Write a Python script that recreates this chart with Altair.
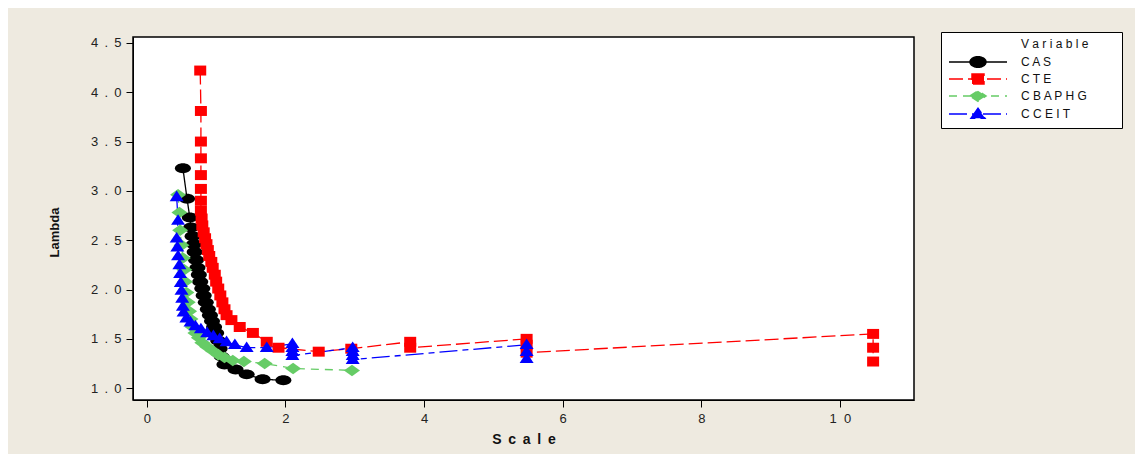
import altair as alt
import pandas as pd

series = ["C A S", "C T E", "C B A P H G", "C C E I T"]
colors = ["#000000", "#ff0000", "#66cc66", "#0000ff"]
dashes = [[1, 0], [14, 5], [8, 6], [18, 5, 6, 5]]

cas_x = [0.52, 0.58, 0.62, 0.64, 0.66, 0.68, 0.69, 0.71, 0.73, 0.75, 0.77, 0.80, 0.82, 0.85,
         0.88, 0.91, 0.94, 0.97, 1.00, 1.03, 1.05, 1.08, 1.12, 1.28, 1.44, 1.67, 1.97]
cas_y = [3.23, 2.92, 2.73, 2.63, 2.54, 2.46, 2.38, 2.30, 2.22, 2.15, 2.08, 2.01, 1.94, 1.87,
         1.80, 1.74, 1.68, 1.62, 1.56, 1.48, 1.40, 1.32, 1.24, 1.19, 1.14, 1.09, 1.08]

cte_x = [0.77, 0.78, 0.78, 0.78, 0.78, 0.78, 0.78, 0.78, 0.79, 0.80, 0.82, 0.84, 0.86, 0.88,
         0.90, 0.93, 0.95, 0.98, 1.00, 1.03, 1.06, 1.09, 1.12, 1.15, 1.22, 1.34, 1.53, 1.73,
         1.90, 2.48, 2.95, 3.80, 3.80, 5.48, 5.48, 5.48, 10.48, 10.48, 10.48]
cte_y = [4.22, 3.81, 3.50, 3.33, 3.16, 3.02, 2.90, 2.80, 2.72, 2.65, 2.58, 2.52, 2.46, 2.40,
         2.34, 2.28, 2.22, 2.15, 2.08, 2.01, 1.94, 1.87, 1.80, 1.74, 1.69, 1.62, 1.56, 1.47,
         1.41, 1.37, 1.40, 1.47, 1.41, 1.50, 1.44, 1.36, 1.55, 1.41, 1.27]

cbaphg_x = [0.45, 0.47, 0.48, 0.50, 0.52, 0.54, 0.55, 0.57, 0.59, 0.61, 0.63, 0.66, 0.70, 0.75,
            0.80, 0.87, 0.95, 1.03, 1.12, 1.24, 1.40, 1.70, 2.11, 2.96]
cbaphg_y = [2.96, 2.78, 2.60, 2.45, 2.32, 2.20, 2.08, 1.97, 1.87, 1.78, 1.70, 1.62, 1.56, 1.51,
            1.46, 1.42, 1.38, 1.34, 1.31, 1.28, 1.27, 1.25, 1.20, 1.18]

cceit_x = [0.43, 0.45, 0.43, 0.44, 0.45, 0.47, 0.48, 0.49, 0.50, 0.51, 0.52, 0.53, 0.57, 0.63,
           0.70, 0.78, 0.87, 0.96, 1.05, 1.15, 1.27, 1.44, 1.73, 2.10, 2.10, 2.10, 2.10, 2.97,
           2.97, 2.97, 2.97, 5.48, 5.48, 5.48]
cceit_y = [2.94, 2.70, 2.52, 2.43, 2.34, 2.25, 2.16, 2.07, 1.99, 1.91, 1.83, 1.77, 1.71, 1.67,
           1.63, 1.60, 1.56, 1.53, 1.50, 1.47, 1.44, 1.41, 1.41, 1.45, 1.41, 1.37, 1.33, 1.41,
           1.37, 1.33, 1.29, 1.44, 1.37, 1.30]

y_ticks = [1.0, 1.5, 2.0, 2.5, 3.0, 3.5, 4.0, 4.5]
x_ticks = [0, 2, 4, 6, 8, 10]

legend_title = "V a r i a b l e"

# marker shapes (unit box -1..1)
marker_paths = [
    "M-1,0A1,0.62 0 1,0 1,0A1,0.62 0 1,0 -1,0Z",
    "M-1,-0.83H1V0.83H-1Z",
    "M-1,0L0,-0.72L1,0L0,0.72Z",
    "M-1,0.62L0,-0.9L1,0.62Z",
]
marker_sizes = [256, 144, 256, 196]
# legend symbols: line + marker (symbolSize 100 -> 1 unit = 5 px)
legend_paths = [
    "M0,-1.2V1.2",
    "M-5.8,0H5.8M-1.6,0A1.6,1.05 0 1,0 1.6,0A1.6,1.05 0 1,0 -1.6,0Z",
    "M-5.8,0H5.8M-1.2,-1H1.2V1H-1.2Z",
    "M-5.8,0H5.8M-1.6,0L0,-1.05L1.6,0L0,1.05Z",
    "M-5.8,0H5.8M-1.4,0.85L0,-1.15L1.4,0.85Z",
]

rows = []
for name, xs, ys in zip(series, [cas_x, cte_x, cbaphg_x, cceit_x], [cas_y, cte_y, cbaphg_y, cceit_y]):
    for i, (a, b) in enumerate(zip(xs, ys)):
        rows.append({"Variable": name, "Scale": a, "Lambda": b, "idx": i})
df = pd.DataFrame(rows)

FONT = "Liberation Sans"
PADCH = "\u2800"

x_enc = alt.X("Scale:Q",
              scale=alt.Scale(domain=[-0.2, 11.07], nice=False, zero=False),
              axis=alt.Axis(values=x_ticks, format="d",
                            labelExpr="datum.value == 10 ? '1\u00a0 0' : datum.label",
                            title="S\u2009 c\u2009 a\u2009 l\u2009 e",
                            titleFontWeight="bold", titleFontSize=14, titlePadding=7))
y_enc = alt.Y("Lambda:Q",
              scale=alt.Scale(domain=[0.88, 4.56], nice=False, zero=False),
              axis=alt.Axis(values=y_ticks, format=".1f",
                            labelExpr="replace(datum.label, '.', '\u2009 .\u2009 ')",
                            title="Lambda",
                            titleX=-72, titleY=195, titleFontWeight="bold", titleFontSize=13))

base = alt.Chart(df)
layers = []
for name, c, d in zip(series, colors, dashes):
    layers.append(base.transform_filter(alt.datum.Variable == name)
                  .mark_line(color=c, strokeDash=d, strokeWidth=1.3)
                  .encode(x=x_enc, y=y_enc, order="idx:Q"))
for name, c, p, s in zip(series, colors, marker_paths, marker_sizes):
    layers.append(base.transform_filter(alt.datum.Variable == name)
                  .mark_point(shape=p, filled=True, color=c, size=s, opacity=1)
                  .encode(x=x_enc, y=y_enc))

leg_domain = [legend_title] + series
leg = alt.Legend(orient="none", legendX=808, legendY=-5, title=None,
                 labelFont=FONT, labelFontSize=12, labelColor="#111",
                 labelExpr="datum.label + '" + PADCH * 3 + "'",
                 symbolSize=100, symbolStrokeWidth=1.5, symbolOpacity=1,
                 symbolOffset=25, labelOffset=37,
                 fillColor="white", strokeColor="black", padding=6,
                 rowPadding=0)
cscale = alt.Scale(domain=leg_domain, range=["transparent"] + colors)
layers.append(base.transform_filter("false")
              .mark_point(opacity=1, filled=False)
              .encode(x=x_enc, y=y_enc,
                      fill=alt.Fill("Variable:N", scale=cscale, legend=leg),
                      stroke=alt.Stroke("Variable:N", scale=cscale, legend=leg),
                      shape=alt.Shape("Variable:N", scale=alt.Scale(domain=leg_domain, range=legend_paths), legend=leg),
                      strokeDash=alt.StrokeDash("Variable:N", scale=alt.Scale(domain=leg_domain, range=[[1, 0]] + dashes), legend=leg)))

chart = alt.layer(*layers).properties(
    width=781, height=363,
    background="#eeeae0",
    padding={"left": 125, "top": 29, "right": 221, "bottom": 54},
    autosize=alt.AutoSizeParams(type="none"),
).configure_view(
    fill="white", stroke="black", strokeWidth=1.5
).configure_axis(
    labelFont=FONT, titleFont=FONT, labelFontSize=13, labelColor="#222", titleColor="#111",
    domainColor="black", tickColor="black", tickSize=7, labelPadding=5, grid=False,
)

chart.save("out.html", embed_options={"renderer": "svg", "actions": False})
